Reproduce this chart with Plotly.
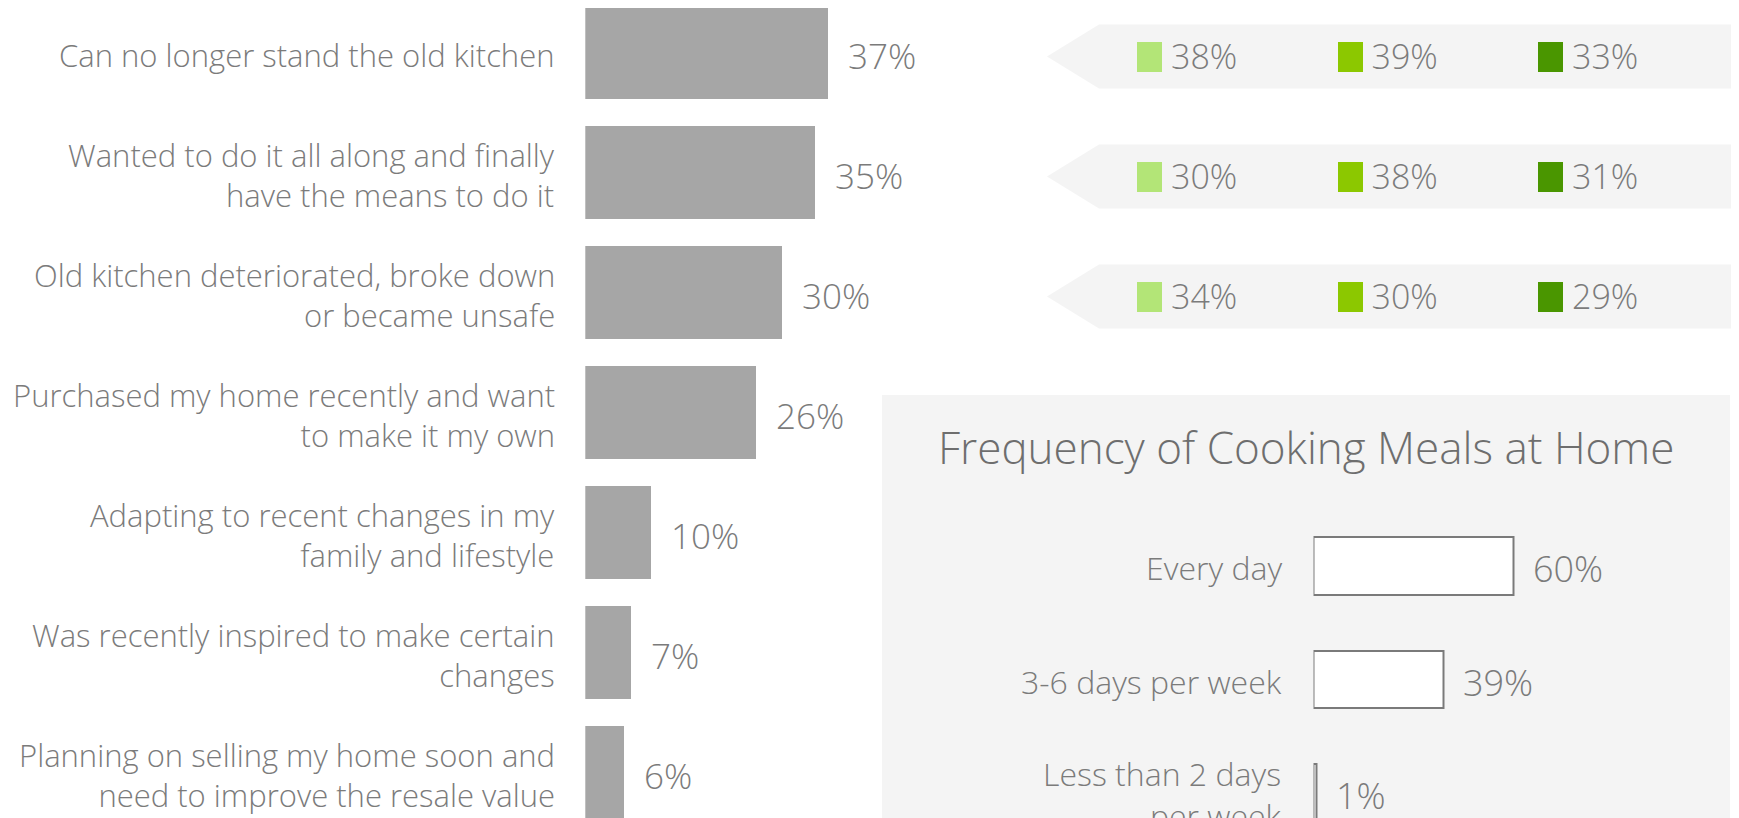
import plotly.graph_objects as go

W, H = 1739, 818
OFF = 8  # page body margin added by the html wrapper

# ---------------- data ----------------
reasons = [
    "Can no longer stand the old kitchen",
    "Wanted to do it all along and finally<br>have the means to do it",
    "Old kitchen deteriorated, broke down<br>or became unsafe",
    "Purchased my home recently and want<br>to make it my own",
    "Adapting to recent changes in my<br>family and lifestyle",
    "Was recently inspired to make certain<br>changes",
    "Planning on selling my home soon and<br>need to improve the resale value",
]
reason_pct = [37, 35, 30, 26, 10, 7, 6]

group_colors = ["#b3e577", "#8cc800", "#4a9600"]
group_pct = [
    [38, 39, 33],
    [30, 38, 31],
    [34, 30, 29],
]

freq_labels = ["Every day", "3-6 days per week", "Less than 2 days<br>per week"]
freq_pct = [60, 39, 1]
freq_title = "Frequency of Cooking Meals at Home"

# ---------------- style ----------------
FONT = "Open Sans"
TXT = "#7b7b7b"
BAR = "#a6a6a6"
BAND = "#f4f4f4"
PANEL = "#f4f4f4"


def px(p):
    """page pixel -> figure pixel"""
    return p - OFF


fig = go.Figure()

# ---- left chart (x, y) ----
L_X0, L_PXPCT = px(585.3), 6.57
L_C0, L_STEP = px(52.8), 120.0
idx = list(range(len(reasons)))
fig.add_trace(go.Bar(
    x=reason_pct, y=idx, orientation="h", width=93 / L_STEP,
    marker=dict(color=BAR, line=dict(width=0)),
    xaxis="x", yaxis="y", hoverinfo="skip", showlegend=False,
))

# ---- top-right group values (x3, y) ----
G_X0, G_STEP = px(1137.0), 200.5
for r, vals in enumerate(group_pct):
    for c, v in enumerate(vals):
        fig.add_trace(go.Bar(
            x=[25 / G_STEP], base=[c], y=[r + 0.033], orientation="h",
            width=30 / L_STEP,
            marker=dict(color=group_colors[c], line=dict(width=0)),
            xaxis="x3", yaxis="y", hoverinfo="skip", showlegend=False,
        ))
    fig.add_trace(go.Scatter(
        x=[c + 34 / G_STEP for c in range(len(vals))], y=[r + 0.06] * len(vals),
        mode="text", text=[f"{v}%" for v in vals], textposition="middle right",
        textfont=dict(family=FONT, size=34, color=TXT, weight=300),
        xaxis="x3", yaxis="y", hoverinfo="skip", showlegend=False,
    ))

# ---- bottom-right frequency chart (x4, y4) ----
F_X0, F_PXPCT = px(1313.5), 3.34
F_C0, F_STEP = px(566.2), 113.3
fidx = list(range(len(freq_labels)))
fig.add_trace(go.Bar(
    x=freq_pct, y=fidx, orientation="h", width=57.7 / F_STEP,
    marker=dict(color="white", line=dict(width=2, color="#7a7a7a")),
    xaxis="x4", yaxis="y4", hoverinfo="skip", showlegend=False,
))

annotations = []
for i, t in enumerate(reasons):
    annotations.append(dict(
        x=0, y=i, xref="x", yref="y", text=t, showarrow=False, align="right",
        xanchor="right", yanchor="middle", xshift=-28.5, yshift=-2.5,
        font=dict(family=FONT, size=31, color=TXT, weight=300),
    ))
for i, t in enumerate(freq_labels):
    annotations.append(dict(
        x=0, y=i, xref="x4", yref="y4", text=t, showarrow=False, align="right",
        xanchor="right", yanchor="middle", xshift=-30, yshift=-1.5,
        font=dict(family=FONT, size=32, color=TXT, weight=300),
    ))
for i, v in enumerate(reason_pct):
    annotations.append(dict(
        x=v, y=i, xref="x", yref="y", text=f"{v}%", showarrow=False,
        xanchor="left", yanchor="middle", xshift=17.5, yshift=-2.5,
        font=dict(family=FONT, size=35, color=TXT, weight=300),
    ))
for i, v in enumerate(freq_pct):
    annotations.append(dict(
        x=v, y=i, xref="x4", yref="y4", text=f"{v}%", showarrow=False,
        xanchor="left", yanchor="middle", xshift=17.5, yshift=-2.5,
        font=dict(family=FONT, size=36, color=TXT, weight=300),
    ))
annotations.append(dict(
    x=px(1306) / W, y=1 - px(447) / H, xref="paper", yref="paper", text=freq_title,
    showarrow=False, xanchor="center", yanchor="middle",
    font=dict(family=FONT, size=44, color="#6e6e6e", weight=300),
))

shapes = [dict(
    type="rect", xref="paper", yref="paper", layer="below",
    x0=px(882) / W, x1=px(1730) / W, y0=-0.05, y1=1 - px(395) / H,
    fillcolor=PANEL, line=dict(width=0),
)]
band_l = (px(1099) - G_X0) / G_STEP
band_r = (px(1735) - G_X0) / G_STEP
tip = (px(1047) - G_X0) / G_STEP
hh = 32 / L_STEP
for r in range(len(group_pct)):
    yc = r + 0.03
    shapes.append(dict(
        type="path", xref="x3", yref="y", layer="below",
        path=(f"M {tip},{yc} L {band_l},{yc - hh} L {band_r},{yc - hh} "
              f"L {band_r},{yc + hh} L {band_l},{yc + hh} Z"),
        fillcolor=BAND, line=dict(width=0),
    ))


def yrange(c0, step):
    return [(H - c0) / step, -c0 / step]


fig.update_layout(
    width=W, height=H, margin=dict(l=0, r=0, t=0, b=0),
    paper_bgcolor="white", plot_bgcolor="rgba(0,0,0,0)",
    bargap=0, barmode="overlay",
    annotations=annotations, shapes=shapes,
    xaxis=dict(domain=[L_X0 / W, (L_X0 + 100 * L_PXPCT) / W], range=[0, 100],
               visible=False),
    yaxis=dict(domain=[0, 1], range=yrange(L_C0, L_STEP), anchor="x",
               visible=False),
    xaxis3=dict(domain=[0, 1], range=[-G_X0 / G_STEP, (W - G_X0) / G_STEP],
                anchor="y", visible=False),
    xaxis4=dict(domain=[F_X0 / W, (F_X0 + 100 * F_PXPCT) / W], range=[0, 100],
                anchor="y4", visible=False),
    yaxis4=dict(domain=[0, 1], range=yrange(F_C0, F_STEP), anchor="x4",
                visible=False),
)

fig.write_html("out.html")
